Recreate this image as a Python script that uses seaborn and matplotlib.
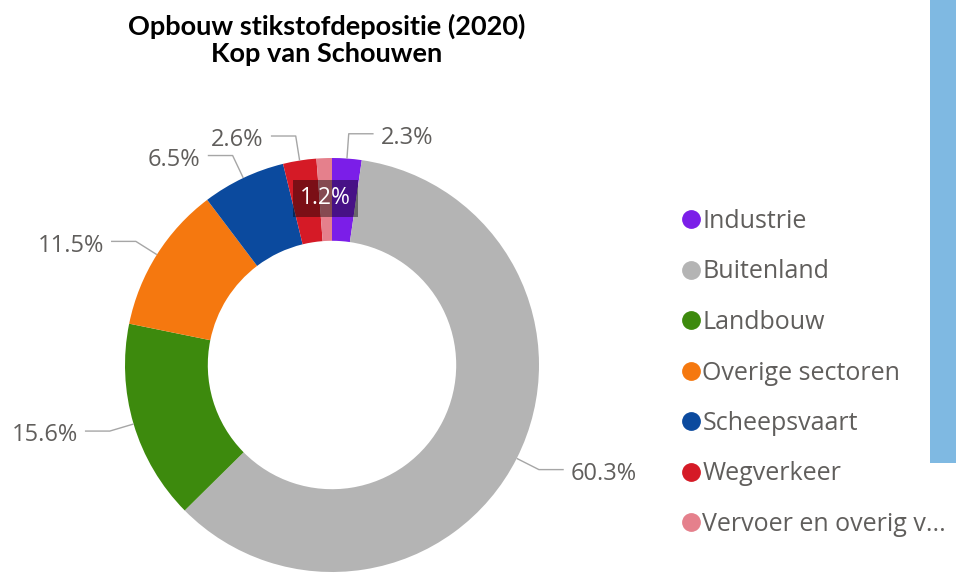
import numpy as np
import seaborn as sns
import matplotlib.pyplot as plt
from matplotlib.lines import Line2D
from matplotlib.patches import Rectangle

# Data (percentages)
sectoren = ['Industrie', 'Buitenland', 'Landbouw', 'Overige sectoren',
            'Scheepsvaart', 'Wegverkeer', 'Vervoer en overig v...']
aandeel = [2.3, 60.3, 15.6, 11.5, 6.5, 2.6, 1.2]
kleuren = ['#7b1ee8', '#b4b4b4', '#3d8a0d', '#f5780f', '#0b4a9e', '#d51a26', '#e5808c']

sns.set_style('white')
plt.rcParams['font.family'] = ['Open Sans', 'DejaVu Sans']

W, H = 956, 575
fig = plt.figure(figsize=(W / 100, H / 100), dpi=100)
fig.patch.set_facecolor('white')

# pie center / radius in pixels
cx, cy, R = 332, 365, 207
ax = fig.add_axes([0, 0, 1, 1])
palette = sns.color_palette(kleuren)
wedges, _ = ax.pie(aandeel, colors=palette, startangle=90, counterclock=False,
                   radius=1, wedgeprops=dict(width=0.4, linewidth=0))
ax.set_xlim(-cx / R, (W - cx) / R)
ax.set_ylim(-(H - cy) / R, cy / R)
ax.axis('off')

# data labels with leader lines
totaal = sum(aandeel)
hoek = 0.0
for i, v in enumerate(aandeel):
    mid = np.deg2rad(hoek + v / totaal * 360 / 2)
    hoek += v / totaal * 360
    sx, cy_ = np.sin(mid), np.cos(mid)
    label = f'{v:.1f}%'
    if v < 2:
        # small slice: label inside the ring, dark box
        r = 0.805
        ax.text(sx * r, cy_ * r, label, color='white', fontsize=16.5,
                ha='center', va='center',
                bbox=dict(boxstyle='square,pad=0.3', fc='black', ec='none', alpha=0.42))
        continue
    ex, ey = sx * 1.12, cy_ * 1.12
    dirx = 1 if sx >= 0 else -1
    hx = ex + dirx * 0.12
    ax.plot([sx * 1.0, ex, hx], [cy_ * 1.0, ey, ey], color='#a6a6a6', lw=1, solid_capstyle='butt')
    ax.text(hx + dirx * 0.035, ey - 0.02, label, color='#605e5c', fontsize=17,
            ha='left' if dirx > 0 else 'right', va='center')

# title
fig.text(327 / W, 1 - 26 / H, 'Opbouw stikstofdepositie (2020)', family=['Lato', 'DejaVu Sans'],
         fontsize=19.5, fontweight='bold', ha='center', va='center', color='black')
fig.text(327 / W, 1 - 54 / H, 'Kop van Schouwen', family=['Lato', 'DejaVu Sans'],
         fontsize=19.5, fontweight='bold', ha='center', va='center', color='black')

# legend
handles = [Line2D([], [], marker='o', linestyle='none', markersize=12.5,
                  markerfacecolor=c, markeredgecolor=c) for c in palette]
leg = fig.legend(handles, sectoren, loc='upper left', bbox_to_anchor=(684 / W, 1 - 209 / H),
                 frameon=False, fontsize=18, handlelength=0.55, handletextpad=0.18,
                 labelspacing=1.02, borderpad=0, borderaxespad=0)
for t in leg.get_texts():
    t.set_color('#605e5c')

# blue side panel
fig.patches.append(Rectangle((930 / W, 1 - 463 / H), 26 / W, 463 / H,
                             transform=fig.transFigure, fc='#7fb9e2', ec='none'))

fig.savefig('out.png', dpi=100, facecolor='white')
